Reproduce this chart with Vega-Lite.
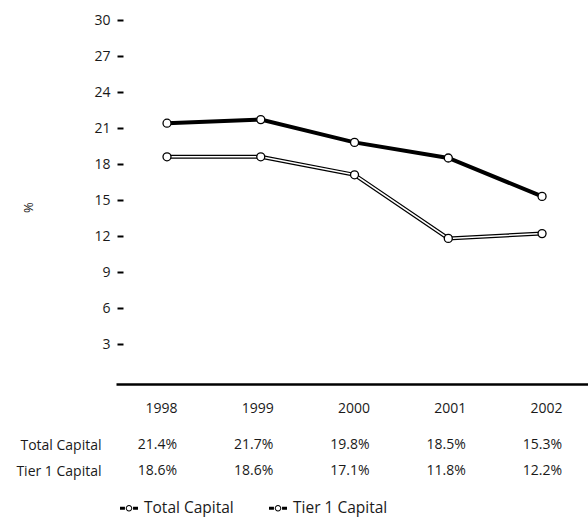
{
  "$schema": "https://vega.github.io/schema/vega-lite/v6.json",
  "padding": {"left": 15, "top": 13, "right": 0, "bottom": 0},
  "background": "white",
  "datasets": {
    "capital": [
      {"year": 1998, "series": "Total Capital", "value": 21.4},
      {"year": 1999, "series": "Total Capital", "value": 21.7},
      {"year": 2000, "series": "Total Capital", "value": 19.8},
      {"year": 2001, "series": "Total Capital", "value": 18.5},
      {"year": 2002, "series": "Total Capital", "value": 15.3},
      {"year": 1998, "series": "Tier 1 Capital", "value": 18.6},
      {"year": 1999, "series": "Tier 1 Capital", "value": 18.6},
      {"year": 2000, "series": "Tier 1 Capital", "value": 17.1},
      {"year": 2001, "series": "Tier 1 Capital", "value": 11.8},
      {"year": 2002, "series": "Tier 1 Capital", "value": 12.2}
    ]
  },
  "spacing": 17,
  "resolve": {"scale": {"x": "independent"}},
  "vconcat": [
    {
      "width": 472,
      "height": 360,
      "data": {"name": "capital"},
      "encoding": {
        "x": {
          "field": "year", "type": "quantitative",
          "scale": {"domain": [1997.456, 2002.49], "nice": false, "zero": false},
          "axis": {"title": null, "labels": false, "ticks": false, "grid": false, "domain": true, "domainColor": "black", "domainWidth": 2.5, "offset": 4}
        },
        "y": {
          "field": "value", "type": "quantitative",
          "scale": {"domain": [0, 30], "nice": false},
          "axis": {"title": "%", "values": [3, 6, 9, 12, 15, 18, 21, 24, 27, 30], "offset": -7, "tickSize": 6, "tickWidth": 2, "tickColor": "black", "labelPadding": 7, "labelFontSize": 14, "domain": false, "grid": false, "titlePadding": 58, "titleY": 187, "titleFontWeight": "normal", "titleFontSize": 13}
        }
      },
      "layer": [
        {
          "mark": {"type": "line", "strokeWidth": 4},
          "encoding": {
            "color": {
              "field": "series", "type": "nominal",
              "sort": ["Total Capital", "Tier 1 Capital"],
              "scale": {"domain": ["Total Capital", "Tier 1 Capital"], "range": ["#000000", "#000000"]},
              "legend": {
                "title": null, "orient": "bottom", "direction": "horizontal", "offset": 15,
                "symbolType": "M-1,-0.17H-0.45V0.17H-1Z M0.45,-0.17H1V0.17H0.45Z M0.36,0A0.36,0.36 0 1,1 -0.36,0A0.36,0.36 0 1,1 0.36,0Z M0.25,0A0.25,0.25 0 1,0 -0.25,0A0.25,0.25 0 1,0 0.25,0Z",
                "symbolSize": 324, "symbolStrokeWidth": 0, "symbolFillColor": "#000000", "symbolOffset": 4,
                "labelFontSize": 15.5, "labelOffset": 6, "columnPadding": 31,
                "encode": {"symbols": {"update": {"fill": {"value": "#000000"}, "strokeWidth": {"value": 0}}}}
              }
            }
          }
        },
        {
          "transform": [{"filter": "datum.series === 'Tier 1 Capital'"}],
          "mark": {"type": "line", "stroke": "white", "strokeWidth": 1.5},
          "encoding": {}
        },
        {
          "mark": {"type": "point", "filled": true, "fill": "white", "stroke": "black", "strokeWidth": 1.3, "size": 64, "opacity": 1},
          "encoding": {}
        }
      ]
    },
    {
      "width": 472,
      "height": 52,
      "data": {"name": "capital"},
      "transform": [{"calculate": "format(datum.value, '.1f') + '%'", "as": "label"}],
      "mark": {"type": "text", "align": "right", "baseline": "middle", "fontSize": 14, "color": "#1a1a1a"},
      "encoding": {
        "x": {
          "field": "year", "type": "quantitative",
          "scale": {"domain": [1997.366, 2002.27], "nice": false, "zero": false},
          "axis": {"orient": "top", "title": null, "values": [1998, 1999, 2000, 2001, 2002], "format": "d", "ticks": false, "domain": false, "grid": false, "labelAlign": "right", "labelBaseline": "middle", "labelPadding": 24, "labelFontSize": 14}
        },
        "y": {
          "field": "series", "type": "nominal",
          "sort": ["Total Capital", "Tier 1 Capital"],
          "axis": {"title": null, "ticks": false, "domain": false, "grid": false, "labelPadding": 15, "labelFontSize": 14}
        },
        "text": {"field": "label"}
      }
    }
  ],
  "config": {
    "font": "Open Sans",
    "view": {"stroke": null},
    "axis": {"labelFont": "Open Sans", "labelColor": "#1a1a1a", "labelFontSize": 13, "titleFont": "Open Sans", "titleColor": "#1a1a1a"},
    "legend": {"labelFont": "Open Sans", "labelColor": "#1a1a1a"}
  }
}
